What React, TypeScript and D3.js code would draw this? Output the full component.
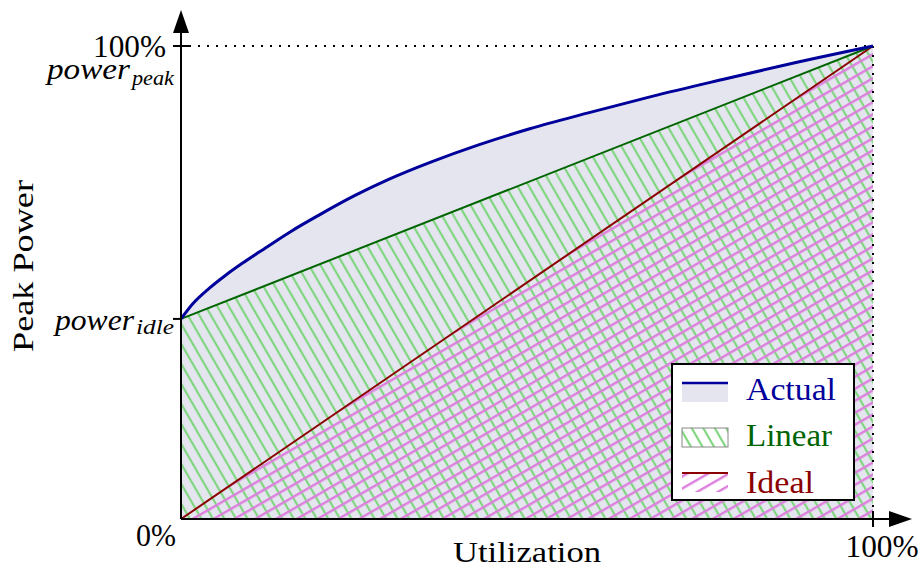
import React from "react";
import * as d3 from "d3";

const utilization = [0, 1.7, 4.1, 6.5, 8.9, 12.2, 16, 20, 25, 30, 36, 43, 50.4, 58.7, 68.2, 77.9, 87.6, 100];
const actualPower = [42.3, 45.5, 48.8, 51.6, 54.1, 57.3, 60.9, 64.3, 68.3, 71.8, 75.4, 79.1, 82.5, 85.8, 89.4, 92.8, 96.1, 100];
const linearU = [0, 100];
const linearPower = [42.3, 100];
const idealU = [0, 100];
const idealPower = [0, 100];
const legendLabels = ["Actual", "Linear", "Ideal"];

const W = 918;
const H = 568;
const FONT = "'Liberation Serif', 'DejaVu Serif', serif";

export default function App() {
  const x = d3.scaleLinear().domain([0, 100]).range([181, 873]);
  const y = d3.scaleLinear().domain([0, 100]).range([519, 46]);

  const actualPts = utilization.map((u, i) => [u, actualPower[i]] as [number, number]);
  const linearPts = linearU.map((u, i) => [u, linearPower[i]] as [number, number]);
  const idealPts = idealU.map((u, i) => [u, idealPower[i]] as [number, number]);

  const line = d3.line<[number, number]>().x(d => x(d[0])).y(d => y(d[1])).curve(d3.curveMonotoneX);
  const area = d3.area<[number, number]>().x(d => x(d[0])).y0(y(0)).y1(d => y(d[1])).curve(d3.curveMonotoneX);

  const blue = "#00009b";
  const green = "#006400";
  const red = "#8b0000";
  const lav = "#e5e5f0";
  const hatchG = "#7fd67f";
  const hatchM = "#dd7fdd";

  const idle = linearPower[0];
  const sg = "spacingAndGlyphs";

  return (
    <svg width={W} height={H} style={{ position: "absolute", left: 0, top: 0, background: "#fff" }}>
      <defs>
        <pattern id="hg" width="10" height="10" patternUnits="userSpaceOnUse" patternTransform="rotate(-30)">
          <line x1="5" y1="-2" x2="5" y2="12" stroke={hatchG} strokeWidth={2.2} />
        </pattern>
        <pattern id="hm" width="10.4" height="10" patternUnits="userSpaceOnUse" patternTransform="rotate(60)">
          <line x1="5" y1="-2" x2="5" y2="12" stroke={hatchM} strokeWidth={2.4} />
        </pattern>
      </defs>

      {/* areas */}
      <path d={area(actualPts) || ""} fill={lav} />
      <path d={area(linearPts) || ""} fill="url(#hg)" />
      <path d={area(idealPts) || ""} fill="url(#hm)" />

      {/* dotted guides */}
      <line x1={x(0) + 8} x2={x(100)} y1={y(100)} y2={y(100)} stroke="#000" strokeWidth={2} strokeDasharray="2,7" />
      <line x1={x(100)} x2={x(100)} y1={y(100)} y2={y(0)} stroke="#000" strokeWidth={2} strokeDasharray="2,7" />

      {/* lines */}
      <path d={line(idealPts) || ""} fill="none" stroke={red} strokeWidth={2} />
      <path d={line(linearPts) || ""} fill="none" stroke={green} strokeWidth={2} />
      <path d={line(actualPts) || ""} fill="none" stroke={blue} strokeWidth={3} />

      {/* axes */}
      <line x1={x(0)} x2={x(0)} y1={y(0)} y2={30} stroke="#000" strokeWidth={2} />
      <polygon points={`${x(0)},10 ${x(0) - 8},33 ${x(0) + 8},33`} fill="#000" />
      <line x1={x(0)} x2={892} y1={y(0)} y2={y(0)} stroke="#000" strokeWidth={2} />
      <polygon points={`912,${y(0)} 889,${y(0) - 8} 889,${y(0) + 8}`} fill="#000" />

      {/* ticks */}
      <line x1={x(0) - 8} x2={x(0) + 8} y1={y(100)} y2={y(100)} stroke="#000" strokeWidth={2} />
      <line x1={x(0) - 8} x2={x(0)} y1={y(idle)} y2={y(idle)} stroke="#000" strokeWidth={2} />
      <line x1={x(100)} x2={x(100)} y1={y(0) - 8} y2={y(0) + 8} stroke="#000" strokeWidth={2} />

      {/* tick labels */}
      <text x={166} y={57} fontFamily={FONT} fontSize={31} textAnchor="end" textLength={73} lengthAdjust={sg}>100%</text>
      <text x={47} y={79} fontFamily={FONT} fontSize={29} fontStyle="italic" textLength={83} lengthAdjust={sg}>power</text>
      <text x={132} y={85} fontFamily={FONT} fontSize={20} fontStyle="italic" textLength={42} lengthAdjust={sg}>peak</text>
      <text x={55} y={330} fontFamily={FONT} fontSize={30} fontStyle="italic" textLength={79} lengthAdjust={sg}>power</text>
      <text x={136} y={334} fontFamily={FONT} fontSize={20} fontStyle="italic" textLength={38} lengthAdjust={sg}>idle</text>
      <text x={176} y={546} fontFamily={FONT} fontSize={31} textAnchor="end" textLength={40} lengthAdjust={sg}>0%</text>
      <text x={x(100) + 9} y={557} fontFamily={FONT} fontSize={31} textAnchor="middle" textLength={73} lengthAdjust={sg}>100%</text>

      {/* axis titles */}
      <text x={(x(0) + x(100)) / 2} y={562} fontFamily={FONT} fontSize={30} textAnchor="middle" textLength={148} lengthAdjust={sg}>Utilization</text>
      <text transform={`translate(33,266) rotate(-90)`} fontFamily={FONT} fontSize={30} textAnchor="middle" textLength={172} lengthAdjust={sg}>Peak Power</text>

      {/* legend */}
      <rect x={672} y={364} width={182} height={136} fill="#fff" stroke="#000" strokeWidth={2} />
      <rect x={682} y={383} width={46} height={19} fill={lav} />
      <line x1={682} x2={728} y1={383} y2={383} stroke={blue} strokeWidth={2.5} />
      <rect x={682} y={428} width={46} height={19} fill="url(#hg)" stroke="#888" strokeWidth={1} />
      <rect x={682} y={473} width={46} height={19} fill="url(#hm)" />
      <line x1={682} x2={728} y1={473} y2={473} stroke={red} strokeWidth={2} />
      <text x={746} y={400} fontFamily={FONT} fontSize={31} fill={blue} textLength={90} lengthAdjust={sg}>{legendLabels[0]}</text>
      <text x={746} y={446} fontFamily={FONT} fontSize={31} fill={green} textLength={86} lengthAdjust={sg}>{legendLabels[1]}</text>
      <text x={746} y={493} fontFamily={FONT} fontSize={31} fill={red} textLength={68} lengthAdjust={sg}>{legendLabels[2]}</text>
    </svg>
  );
}
